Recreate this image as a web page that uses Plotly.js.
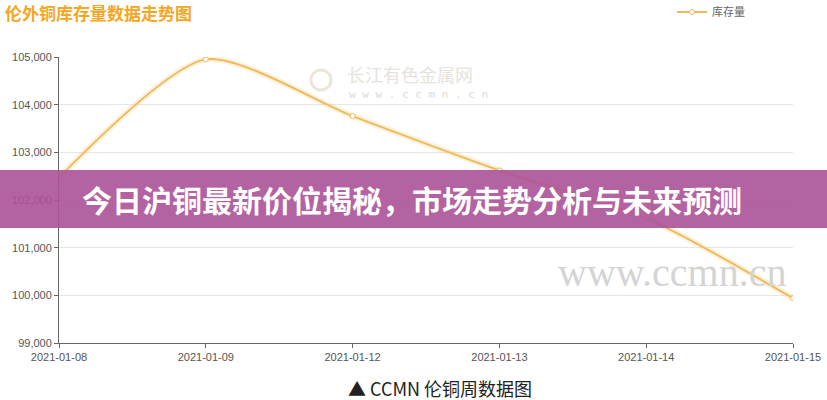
<!DOCTYPE html>
<html><head><meta charset="utf-8">
<script src="https://cdn.plot.ly/plotly-3.0.1.min.js"></script>
<style>html,body{margin:0;padding:0;background:#fff;}#chart{width:827px;height:400px;}</style>
</head><body><div id="chart"></div>
<script>
const dates = ['2021-01-08','2021-01-09','2021-01-12','2021-01-13','2021-01-14','2021-01-15'];
const stock = [102470, 104950, 103760, 102620, 101620, 99940];
const yTicks = [99000, 100000, 101000, 102000, 103000, 104000, 105000];
const yTickText = ['99,000','100,000','101,000','102,000','103,000','104,000','105,000'];
const seriesName = '库存量';
const chartTitle = '伦外铜库存量数据走势图';
const bannerText = '今日沪铜最新价位揭秘，市场走势分析与未来预测';
const captionText = '▲ CCMN 伦铜周数据图';

const W = 827, H = 400, L = 59, R = 34, T = 57, B = 57;
const pw = W - L - R, ph = H - T - B;
const px = x => (x - L) / pw;
const py = y => (H - B - y) / ph;

const lineColor = 'rgb(238,186,92)';
const traces = [
  {x: dates, y: stock, type: 'scatter', mode: 'lines', line: {shape: 'spline', smoothing: 0.7, color: 'rgba(245,200,110,0.25)', width: 6}, showlegend: false, hoverinfo: 'skip'},
  {x: dates, y: stock, name: seriesName, type: 'scatter', mode: 'lines+markers',
   line: {shape: 'spline', smoothing: 0.7, color: lineColor, width: 2},
   marker: {size: 5, color: '#fff', line: {color: lineColor, width: 1}}}
];

const layout = {
  width: W, height: H,
  margin: {l: L, r: R, t: T, b: B, autoexpand: false},
  paper_bgcolor: '#fff', plot_bgcolor: '#fff',
  font: {family: '"Liberation Sans", Arial, sans-serif', size: 11, color: '#555'},
  title: {text: chartTitle, xref: 'container', yref: 'container', x: 5/W, xanchor: 'left', y: 1 - 14/H, yanchor: 'middle',
          font: {family: '"Noto Sans CJK SC", sans-serif', size: 17, color: '#f5a623', weight: 'bold'}},
  xaxis: {type: 'category', range: [0, 5], showgrid: false, showline: true, linecolor: '#666', linewidth: 1, automargin: false,
          ticks: 'outside', ticklen: 4, tickcolor: '#666', tickfont: {size: 11, color: '#555'}, zeroline: false, fixedrange: true},
  yaxis: {range: [99000, 105000], tickvals: yTicks, ticktext: yTickText, showgrid: true, gridcolor: '#e6e6e6', automargin: false,
          showline: true, linecolor: '#666', linewidth: 1, ticks: 'outside', ticklen: 4, tickcolor: '#666',
          tickfont: {size: 11, color: '#555'}, zeroline: false, fixedrange: true},
  legend: {orientation: 'h', x: px(672), xanchor: 'left', y: py(12), yanchor: 'middle', font: {size: 11, color: '#666', family: '"Noto Sans CJK SC", sans-serif'}, bgcolor: 'rgba(0,0,0,0)'},
  shapes: [
    {type: 'circle', xref: 'paper', yref: 'paper', x0: px(311), x1: px(331), y0: py(90), y1: py(70), line: {color: '#ece6d8', width: 3}, fillcolor: 'rgba(0,0,0,0)', layer: 'below'},
    {type: 'rect', xref: 'paper', yref: 'paper', x0: px(0), x1: px(W), y0: py(228), y1: py(170), fillcolor: 'rgba(172,82,152,0.9)', line: {width: 0}, layer: 'above'}
  ],
  annotations: [
    {text: '长江有色金属网', xref: 'paper', yref: 'paper', x: px(345), xanchor: 'left', y: py(74), yanchor: 'middle', showarrow: false,
     font: {family: '"Noto Sans CJK SC", sans-serif', size: 18, color: '#e6e3dc'}},
    {text: 'w w w . c c m n . c n', xref: 'paper', yref: 'paper', x: px(347), xanchor: 'left', y: py(94), yanchor: 'middle', showarrow: false,
     font: {family: '"DejaVu Sans Mono", monospace', size: 11, color: '#dcdcdc'}},
    {text: 'www.ccmn.cn', xref: 'paper', yref: 'paper', x: px(672), xanchor: 'center', y: py(272), yanchor: 'middle', showarrow: false,
     font: {family: '"Liberation Serif", serif', size: 40, color: '#d4d4d4'}},
    {text: bannerText, xref: 'paper', yref: 'paper', x: px(412), xanchor: 'center', y: py(199), yanchor: 'middle', showarrow: false,
     font: {family: '"Noto Sans CJK SC", sans-serif', size: 30, color: '#fff', weight: 'bold'}},
    {text: captionText, xref: 'paper', yref: 'paper', x: px(440), xanchor: 'center', y: py(388), yanchor: 'middle', showarrow: false,
     font: {family: '"Noto Sans CJK SC", sans-serif', size: 18, color: '#222'}}
  ]
};
Plotly.newPlot('chart', traces, layout, {displayModeBar: false, staticPlot: true});
</script></body></html>
